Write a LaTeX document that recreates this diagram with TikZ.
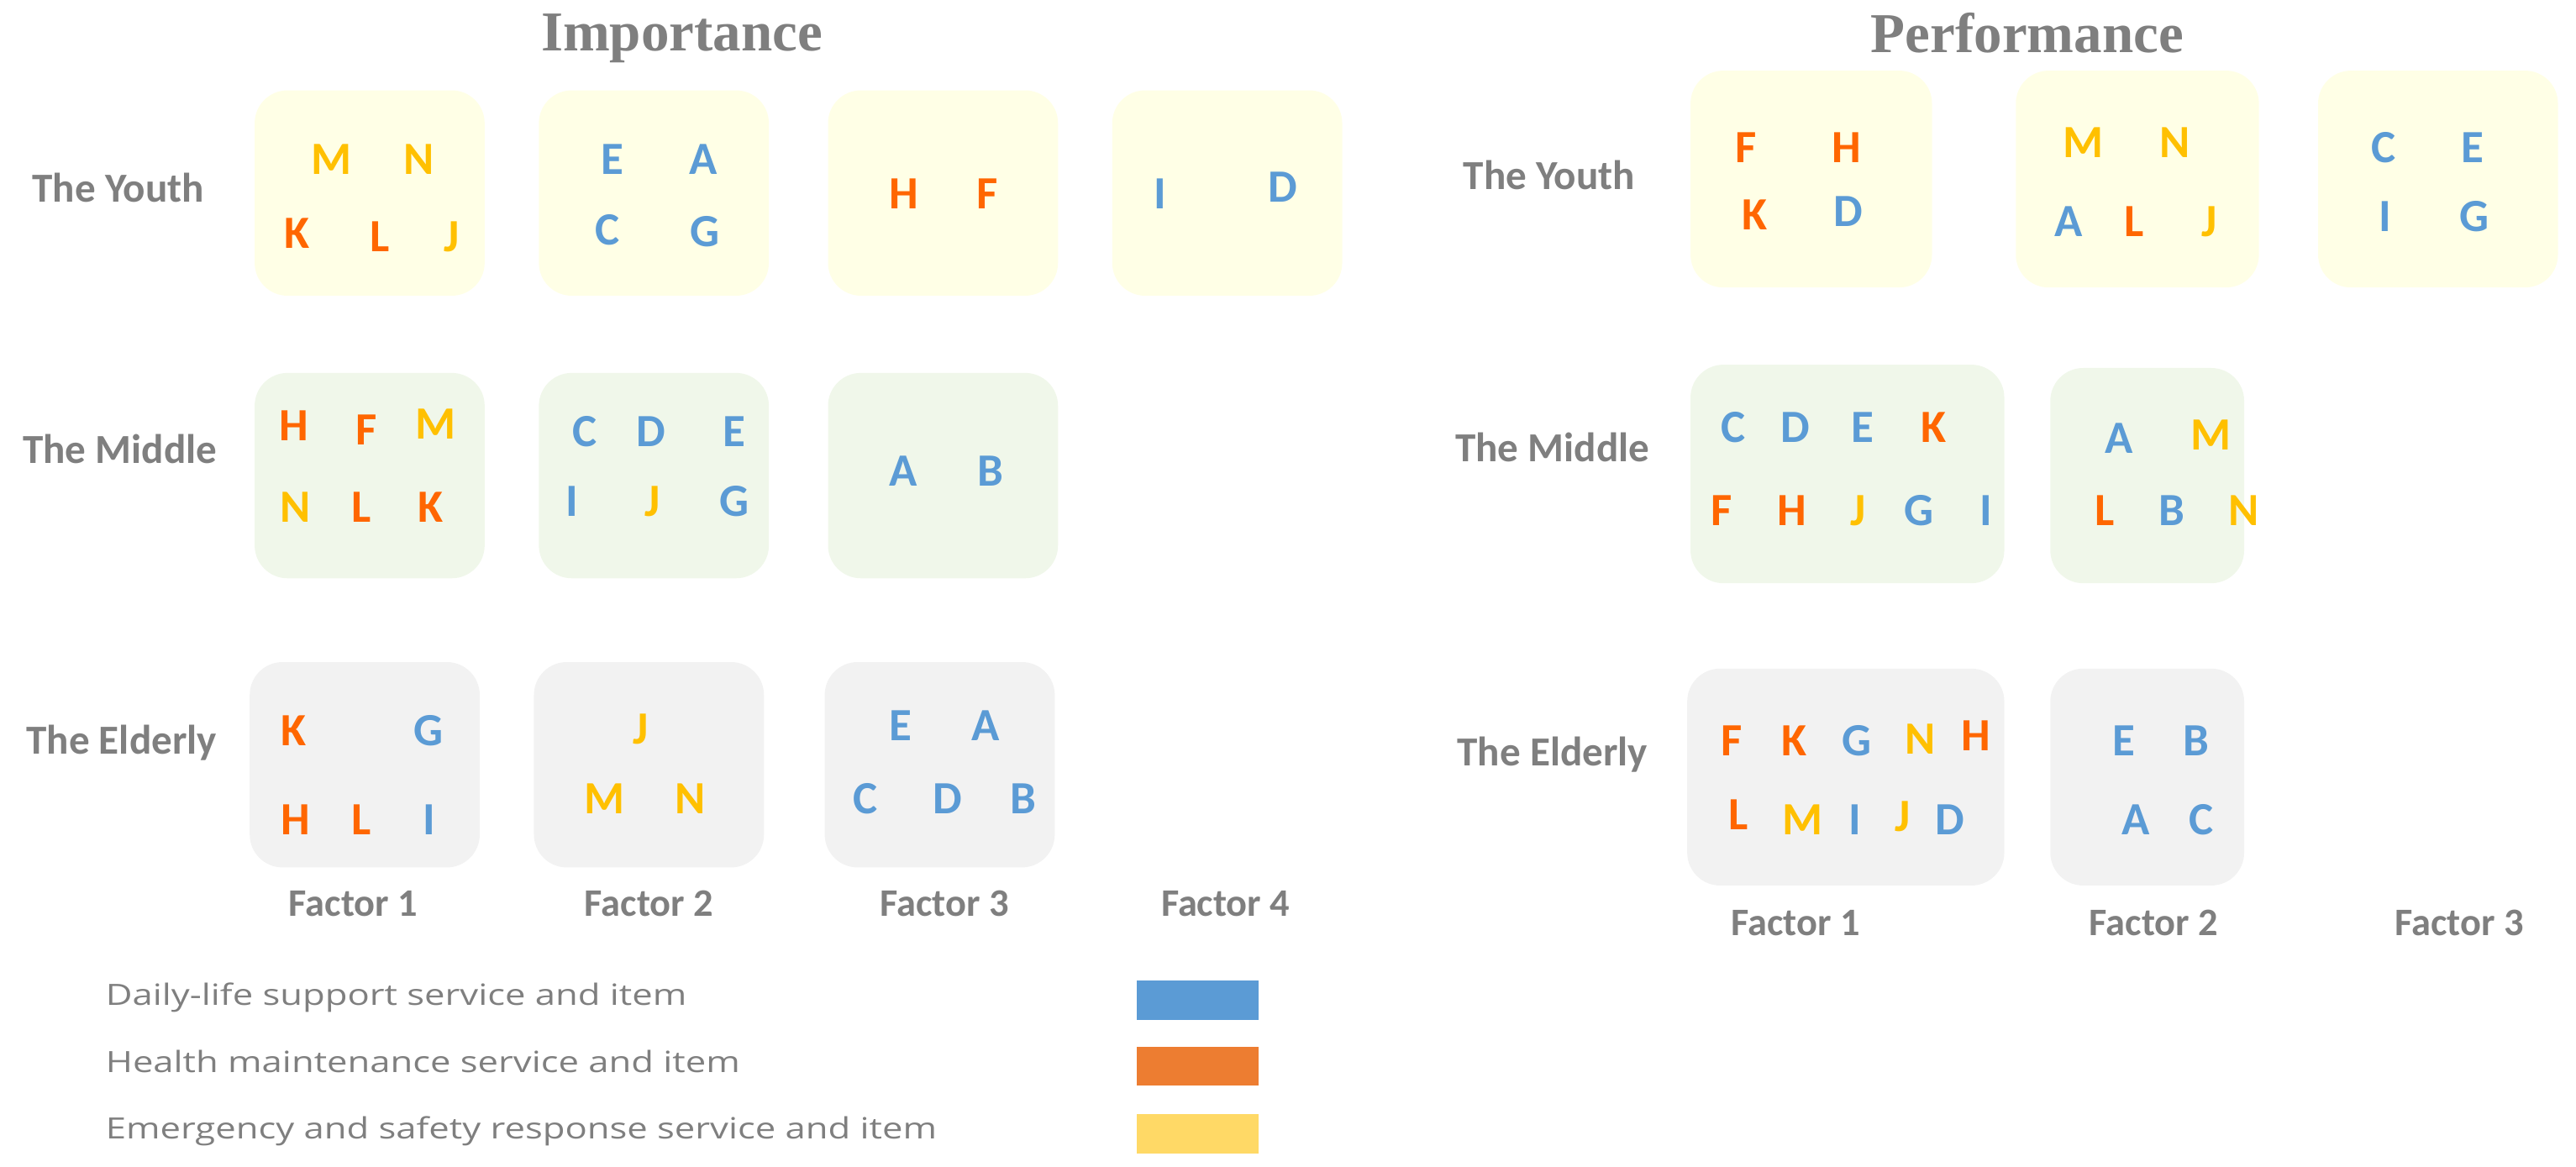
\documentclass[tikz,border=0pt]{standalone}
\usepackage{fontspec}
\setmainfont{Carlito}
\newfontfamily\titlefont{Liberation Serif}
\newfontfamily\legfont[FakeStretch=1.25]{Open Sans}
\usetikzlibrary{positioning}

\definecolor{txtgray}{HTML}{7F7F7F}
\definecolor{itB}{HTML}{5B9BD5}
\definecolor{itO}{HTML}{FF6600}
\definecolor{itY}{HTML}{FFC000}
\definecolor{youthbg}{HTML}{FFFFE6}
\definecolor{middlebg}{HTML}{F0F7EA}
\definecolor{elderbg}{HTML}{F2F2F2}
\definecolor{legblue}{HTML}{5B9BD5}
\definecolor{legorange}{HTML}{ED7D31}
\definecolor{legyellow}{HTML}{FFD966}

\tikzset{
  box/.style={rounded corners=4mm, minimum height=25mm, minimum width=28mm},
  item/.style={font=\fontsize{16}{16}\selectfont\bfseries, text=it#1,
    text height=10.3pt, text depth=0pt},
  grouplbl/.style={font=\fontsize{14.3}{15}\selectfont\bfseries, text=txtgray,
    text height=9.2pt, text depth=0pt},
  factorlbl/.style={font=\fontsize{13.5}{14}\selectfont\bfseries, text=txtgray,
    text height=8.7pt, text depth=0pt},
  title/.style={font=\titlefont\fontsize{19.5}{22}\selectfont\bfseries, text=txtgray, anchor=base},
  legtext/.style={font=\legfont\fontsize{10.15}{12}\selectfont, text=txtgray, anchor=base west},
  swatch/.style={minimum width=14.8mm, minimum height=4.8mm}
}

% letters of one box: x/y/colour/letter
\newcommand{\putitems}[2]{%
  \foreach \x/\y/\c/\t in {#2} \node[item=\c] (#1\t) at (\x,\y) {\t};}

\begin{document}
\begin{tikzpicture}[x=0.2mm, y=-0.2mm, every node/.append style={inner sep=0pt}]
  \useasboundingbox (0,0) rectangle (1568,710);

  % titles
  \node[title] (impTitle) at (415,31) {Importance};
  \node[title] (perfTitle) at (1234,32) {Performance};

  % importance
  \node[grouplbl] (iYouth) at (72,115) {The Youth};
  \node[grouplbl] (iMiddle) at (73,274) {The Middle};
  \node[grouplbl] (iElderly) at (74,451) {The Elderly};

  \node[box, fill=youthbg] (iY1) at (225,117.5) {};
  \node[box, fill=youthbg] (iY2) at (398,117.5) {};
  \node[box, fill=youthbg] (iY3) at (574,117.5) {};
  \node[box, fill=youthbg] (iY4) at (747,117.5) {};
  \node[box, fill=middlebg] (iM1) at (225,289.5) {};
  \node[box, fill=middlebg] (iM2) at (398,289.5) {};
  \node[box, fill=middlebg] (iM3) at (574,289.5) {};
  \node[box, fill=elderbg] (iE1) at (222,465.5) {};
  \node[box, fill=elderbg] (iE2) at (395,465.5) {};
  \node[box, fill=elderbg] (iE3) at (572,465.5) {};

  \putitems{iY1}{202/97/Y/M, 255/97/Y/N, 181/142/O/K, 231/144/O/L, 275/144/Y/J}
  \putitems{iY2}{373/97/B/E, 428/97/B/A, 370/140/B/C, 429/141/B/G}
  \putitems{iY3}{550/118/O/H, 601/118/O/F}
  \putitems{iY4}{706/118/B/I, 781/114/B/D}
  \putitems{iM1}{179/259/O/H, 223/262/O/F, 265/258/Y/M, 180/309/Y/N, 220/309/O/L, 262/309/O/K}
  \putitems{iM2}{356/263/B/C, 396/263/B/D, 447/263/B/E, 348/305/B/I, 397/305/Y/J, 447/305/B/G}
  \putitems{iM3}{550/287/B/A, 603/287/B/B}
  \putitems{iE1}{179/445/O/K, 261/445/B/G, 180/499/O/H, 220/499/O/L, 261/499/B/I}
  \putitems{iE2}{390/444/Y/J, 368/486/Y/M, 420/486/Y/N}
  \putitems{iE3}{548/442/B/E, 600/442/B/A, 527/486/B/C, 577/486/B/D, 623/486/B/B}

  \node[factorlbl] (iF1) at (215,550) {Factor 1};
  \node[factorlbl] (iF2) at (395,550) {Factor 2};
  \node[factorlbl] (iF3) at (575,550) {Factor 3};
  \node[factorlbl] (iF4) at (746,550) {Factor 4};

  % performance
  \node[grouplbl] (pYouth) at (943,107) {The Youth};
  \node[grouplbl] (pMiddle) at (945,273) {The Middle};
  \node[grouplbl] (pElderly) at (945,458) {The Elderly};

  \node[box, fill=youthbg, minimum width=29.4mm, minimum height=26.4mm] (pY1) at (1102.5,109) {};
  \node[box, fill=youthbg, minimum width=29.6mm, minimum height=26.4mm] (pY2) at (1301,109) {};
  \node[box, fill=youthbg, minimum width=29.2mm, minimum height=26.4mm] (pY3) at (1484,109) {};
  \node[box, fill=middlebg, minimum width=38.2mm, minimum height=26.6mm] (pM1) at (1124.5,288.5) {};
  \node[box, fill=middlebg, minimum width=23.6mm, minimum height=26.2mm] (pM2) at (1307,289.5) {};
  \node[box, fill=elderbg, minimum width=38.6mm, minimum height=26.4mm] (pE1) at (1123.5,473) {};
  \node[box, fill=elderbg, minimum width=23.6mm, minimum height=26.4mm] (pE2) at (1307,473) {};

  \putitems{pY1}{1063/90/O/F, 1124/90/O/H, 1068/131/O/K, 1125/129/B/D}
  \putitems{pY2}{1268/87/Y/M, 1324/87/Y/N, 1259/135/B/A, 1299/135/O/L, 1345/135/Y/J}
  \putitems{pY3}{1451/90/B/C, 1505/90/B/E, 1452/132/B/I, 1506/132/B/G}
  \putitems{pM1}{1055/260/B/C, 1093/260/B/D, 1134/260/B/E, 1177/260/O/K,
    1048/311/O/F, 1091/311/O/H, 1131/311/Y/J, 1168/311/B/G, 1209/311/B/I}
  \putitems{pM2}{1290/267/B/A, 1346/265/Y/M, 1281/311/O/L, 1322/311/B/B, 1366/311/Y/N}
  \putitems{pE1}{1054/451/O/F, 1092/451/O/K, 1130/451/B/G, 1169/450/Y/N, 1203/448/O/H,
    1058/496/O/L, 1097/499/Y/M, 1129/499/B/I, 1158/497/Y/J, 1187/499/B/D}
  \putitems{pE2}{1293/451/B/E, 1337/451/B/B, 1300/499/B/A, 1340/499/B/C}

  \node[factorlbl] (pF1) at (1093,562) {Factor 1};
  \node[factorlbl] (pF2) at (1311,562) {Factor 2};
  \node[factorlbl] (pF3) at (1497,562) {Factor 3};

  % legend
  \node[legtext] (legDaily) at (64,612) {Daily-life support service and item};
  \node[legtext] (legHealth) at (64,653) {Health maintenance service and item};
  \node[legtext] (legSafety) at (64,693) {Emergency and safety response service and item};
  \node[swatch, fill=legblue] (swDaily) at (729,609) {};
  \node[swatch, fill=legorange] (swHealth) at (729,649) {};
  \node[swatch, fill=legyellow] (swSafety) at (729,690) {};
\end{tikzpicture}
\end{document}
